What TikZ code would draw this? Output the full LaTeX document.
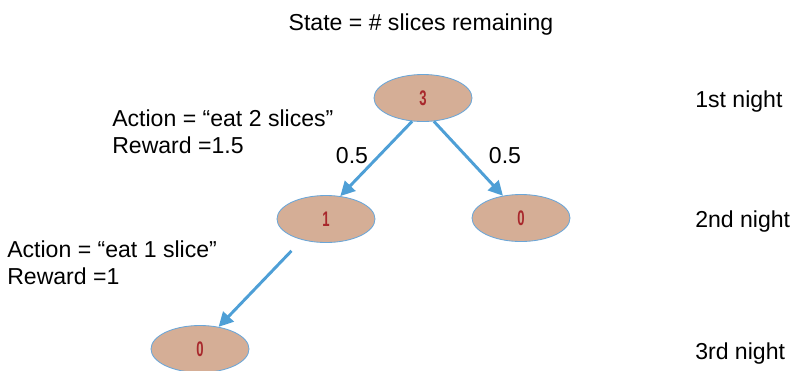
\documentclass[tikz,border=0pt]{standalone}
\usepackage{fontspec}
\setmainfont{Liberation Sans}
\usepackage{tikz}
\usetikzlibrary{shapes.geometric, arrows.meta, positioning}
\definecolor{slicetan}{HTML}{D5AE96}
\definecolor{sliceedge}{HTML}{6AA6D8}
\definecolor{arrowblue}{HTML}{4E9FD6}
\definecolor{numred}{HTML}{A8282C}
\tikzset{
  state_node/.style={ellipse, draw=sliceedge, fill=slicetan, line width=0.6pt, minimum width=2.45cm, minimum height=1.175cm, inner sep=0pt, font=\fontsize{15}{15}\selectfont\bfseries, text=numred},
  move_arrow/.style={-{Triangle[length=3.6mm, width=3.6mm]}, line width=2.1pt, arrowblue},
  label_text/.style={font=\fontsize{16.4}{18.5}\selectfont, inner sep=0pt},
  night_text/.style={label_text, anchor=base west},
  action_text/.style={label_text, anchor=north west, align=left}
}
\newcommand{\slicenum}[1]{\scalebox{0.62}[1]{#1}}

\begin{document}
\begin{tikzpicture}[x=0.025cm, y=-0.025cm]
    % 1. Frame
    \useasboundingbox (0,0) rectangle (791,370);

    % 2. Title
    \node[label_text, anchor=base] (title) at (421,30) {State = \# slices remaining};

    % 3. States
    \node[state_node] (s3) at (423,98) {\slicenum{3}};
    \node[state_node] (s1) at (326,219) {\slicenum{1}};
    \node[state_node] (s0a) at (521,218) {\slicenum{0}};
    \node[state_node] (s0b) at (200,349) {\slicenum{0}};

    % 4. Transitions
    \draw[move_arrow] (s3.245) -- (s1.58);
    \draw[move_arrow] (s3.295) -- (s0a.129);
    \draw[move_arrow, shorten <=0.38cm] (s1.221) -- (s0b.50);

    % 5. Probabilities
    \node[label_text] (p1) at (352,156) {0.5};
    \node[label_text] (p2) at (505,156) {0.5};

    % 6. Actions and rewards
    \node[action_text] (act1) at (112,110) {Action = “eat 2 slices”\\Reward =1.5};
    \node[action_text] (act2) at (7,241) {Action = “eat 1 slice”\\Reward =1};

    % 7. Nights
    \node[night_text] (n1) at (695,107) {1st night};
    \node[night_text] (n2) at (695,227) {2nd night};
    \node[night_text] (n3) at (695,359) {3rd night};
\end{tikzpicture}
\end{document}
